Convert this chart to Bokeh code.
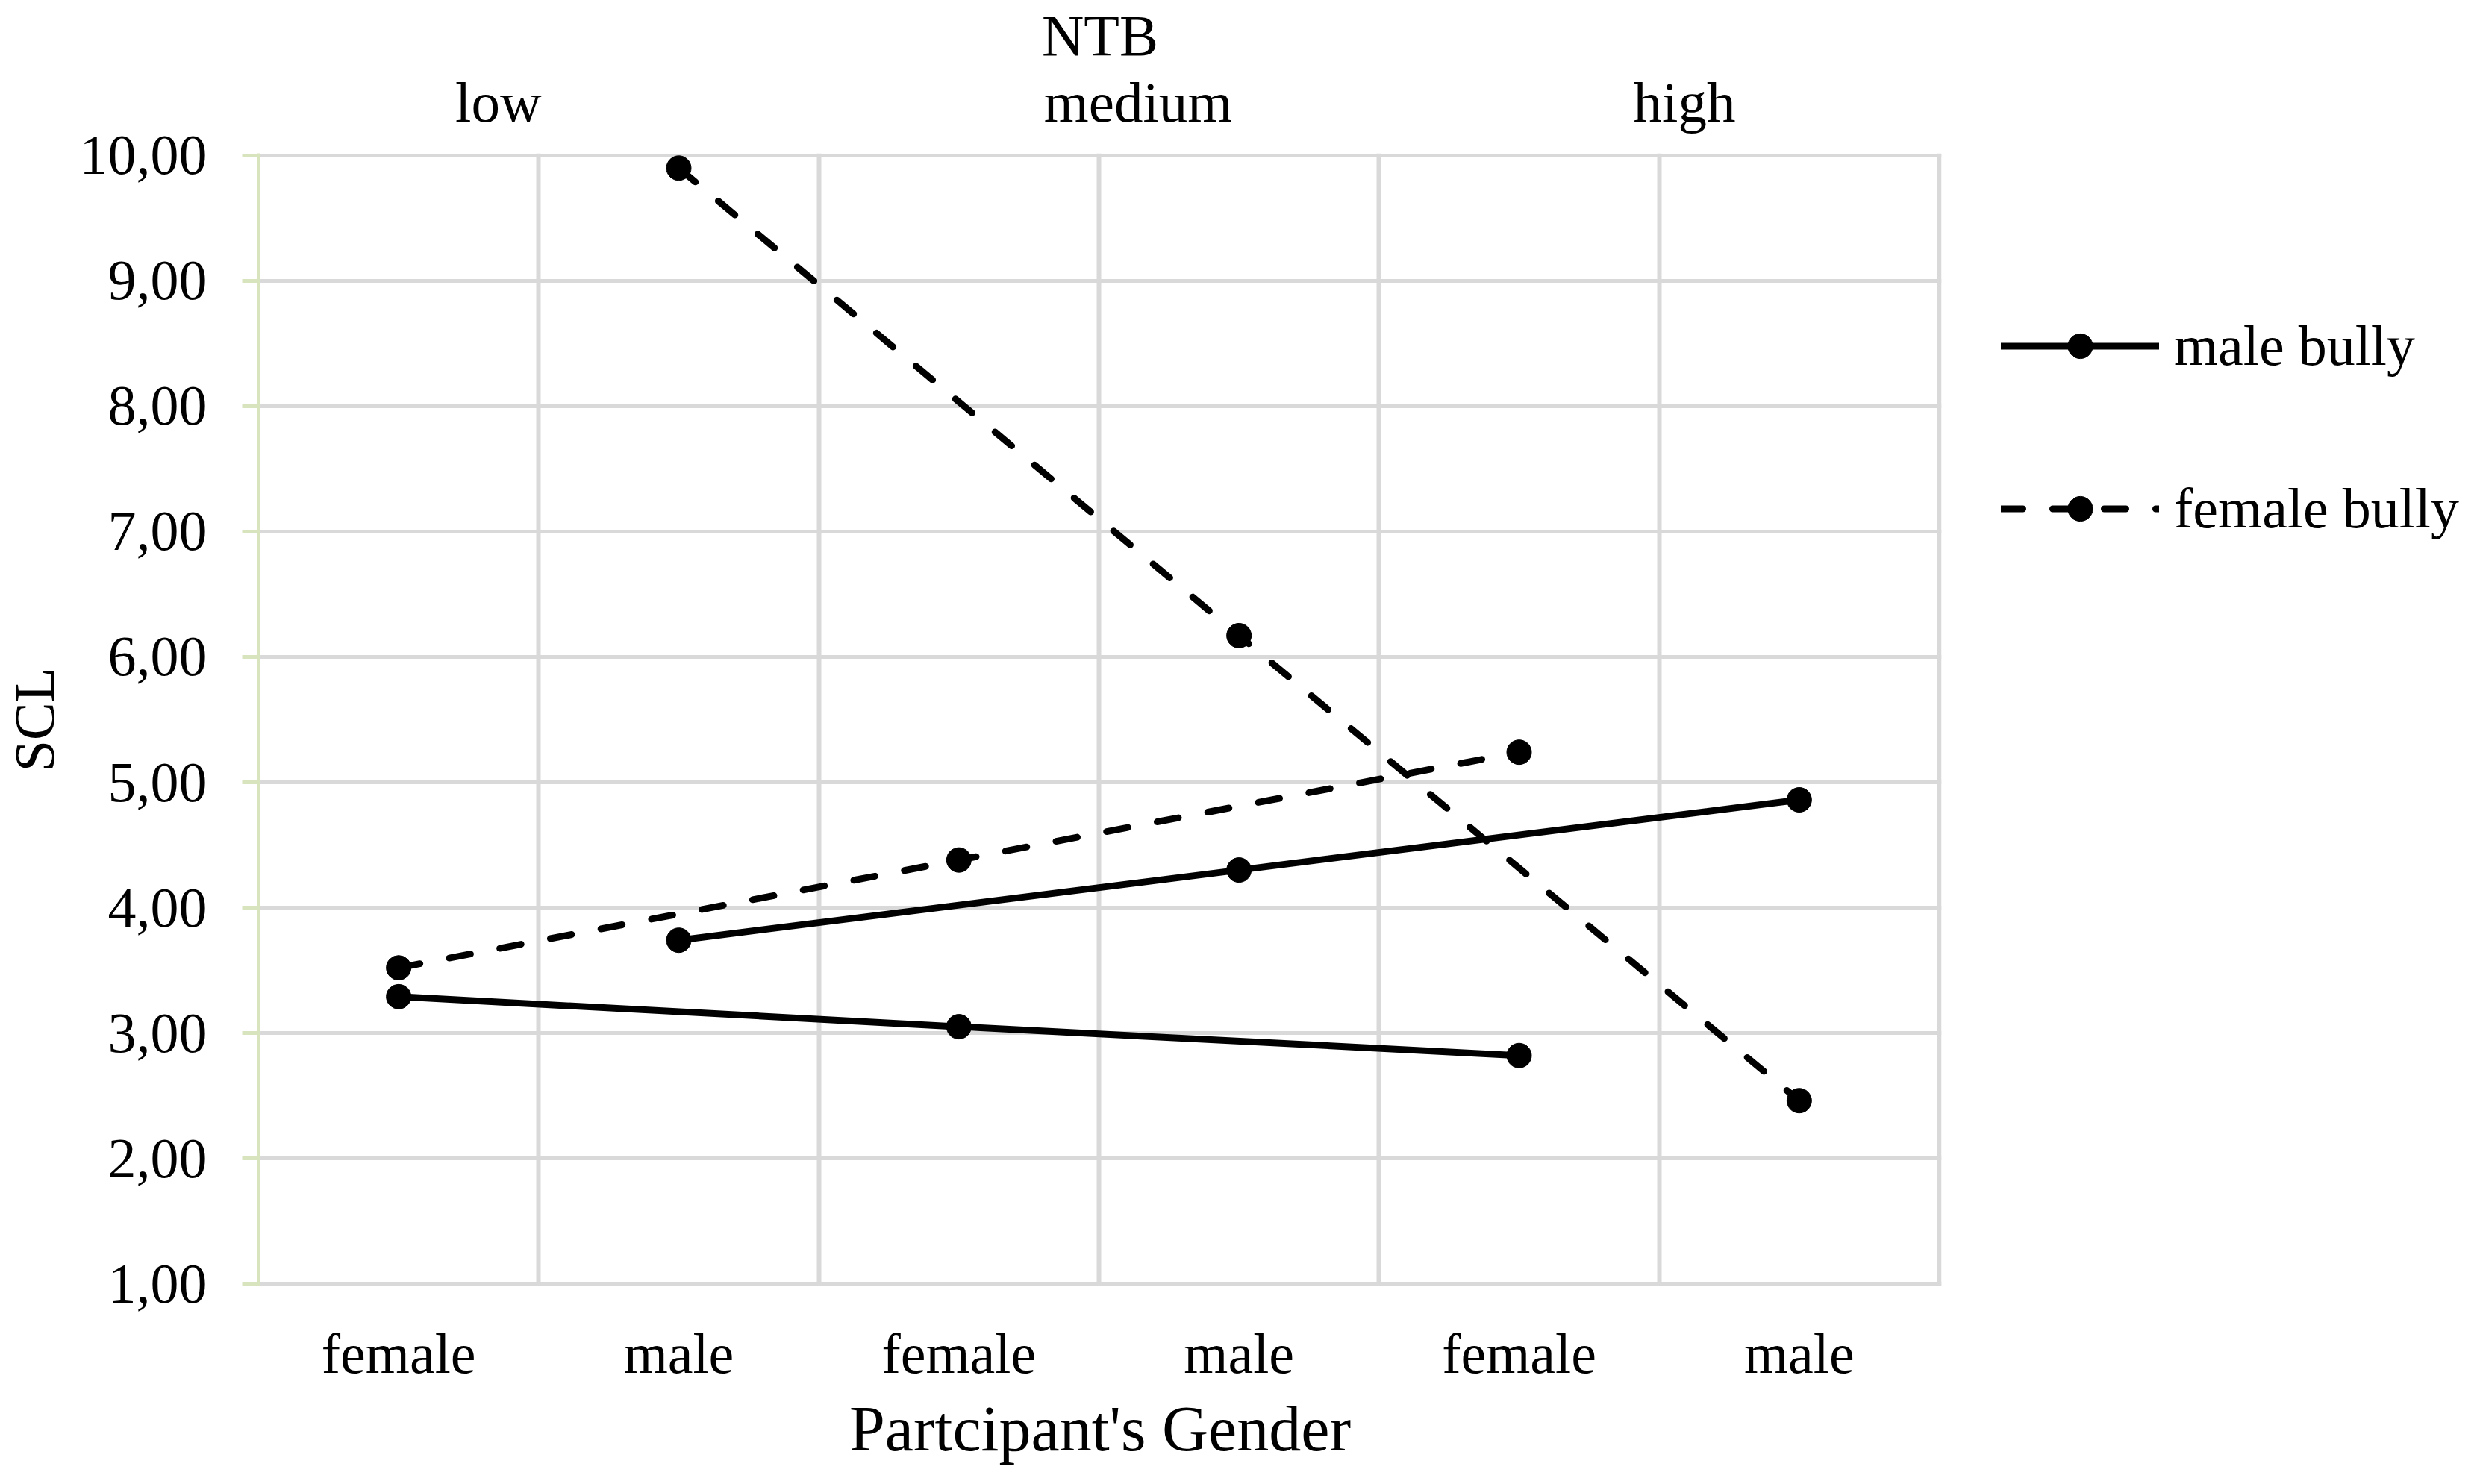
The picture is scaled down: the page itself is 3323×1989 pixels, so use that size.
from bokeh.plotting import figure
from bokeh.layouts import row
from bokeh.models import (Range1d, FixedTicker, CustomJSTickFormatter, Grid, LinearAxis,
                          Legend, LegendItem)
from bokeh.embed import file_html
from bokeh.resources import INLINE

# ---------------- data ----------------
ntb_levels = ["low", "medium", "high"]
participant_genders = ["female", "male"]
x_tick_labels = [g for lvl in ntb_levels for g in participant_genders]

# SCL means per NTB level (low, medium, high), split by participant gender
male_bully_female = [3.29, 3.05, 2.82]
male_bully_male = [3.74, 4.30, 4.86]
female_bully_female = [3.52, 4.38, 5.24]
female_bully_male = [9.90, 6.17, 2.46]

y_ticks = [1, 2, 3, 4, 5, 6, 7, 8, 9, 10]
series_names = ["male bully", "female bully"]

# ---------------- layout ----------------
FONT = "Liberation Serif"
W, H = 3307, 1973
BL, BR, BT, BB = 342, 10, 197, 250
W1 = 2611          # main chart width
W2 = W - W1        # legend strip width
n_cat = len(x_tick_labels)
# small pads so grid lines on the frame edges are drawn
XPAD = 3 / 376.0
YPAD = 3 / 168.9
# header label positions (in category units), as placed in the original
level_label_pos = [0.856, 3.14, 5.09]


def xpos(gender_idx):
    return [len(participant_genders) * i + gender_idx + 0.5 for i in range(len(ntb_levels))]


p = figure(width=W1, height=H, output_backend="svg", toolbar_location=None,
           x_range=Range1d(0, n_cat + XPAD),
           y_range=Range1d(min(y_ticks) - YPAD, max(y_ticks) + YPAD),
           min_border_left=BL, min_border_right=BR, min_border_top=BT, min_border_bottom=BB)
p.outline_line_color = None
p.background_fill_color = "white"
p.border_fill_color = "white"

# grids
p.xgrid.visible = False
p.ygrid.ticker = FixedTicker(ticks=y_ticks)
p.ygrid.grid_line_color = "#d9d9d9"
p.ygrid.grid_line_width = 5
vgrid = Grid(dimension=0, ticker=FixedTicker(ticks=list(range(1, n_cat + 1))),
             grid_line_color="#d9d9d9", grid_line_width=6)
p.add_layout(vgrid)

# y axis
ya = p.yaxis[0]
ya.ticker = FixedTicker(ticks=y_ticks)
ya.formatter = CustomJSTickFormatter(code="return tick.toFixed(2).replace('.', ',');")
ya.axis_line_color = "#d7e4bd"
ya.axis_line_width = 5
ya.major_tick_line_color = "#d7e4bd"
ya.major_tick_line_width = 5
ya.major_tick_out = 22
ya.major_tick_in = 0
ya.minor_tick_line_color = None
ya.minor_tick_out = 0
ya.major_label_standoff = 47
ya.major_label_text_font = FONT
ya.major_label_text_font_size = "76px"
ya.major_label_text_color = "black"
ya.axis_label = "SCL"
ya.axis_label_text_font = FONT
ya.axis_label_text_font_size = "76px"
ya.axis_label_text_font_style = "normal"
ya.axis_label_text_color = "black"
ya.axis_label_standoff = 16

# x axis (bottom)
xa = p.xaxis[0]
xa.ticker = FixedTicker(ticks=[i + 0.5 for i in range(n_cat)])
xa.formatter = CustomJSTickFormatter(args=dict(labels=x_tick_labels),
                                     code="return labels[Math.floor(tick)];")
xa.axis_line_color = None
xa.major_tick_line_color = None
xa.minor_tick_line_color = None
xa.major_tick_out = 0
xa.major_tick_in = 0
xa.minor_tick_out = 0
xa.major_label_standoff = 48
xa.major_label_text_font = FONT
xa.major_label_text_font_size = "76px"
xa.major_label_text_color = "black"
xa.axis_label = "Partcipant's Gender"
xa.axis_label_text_font = FONT
xa.axis_label_text_font_size = "86px"
xa.axis_label_text_font_style = "normal"
xa.axis_label_text_color = "black"
xa.axis_label_standoff = 8

# top axis carrying the NTB levels
ta = LinearAxis(ticker=FixedTicker(ticks=level_label_pos),
                formatter=CustomJSTickFormatter(args=dict(labels=ntb_levels),
                                                code="return labels[index];"),
                axis_line_color=None, major_tick_line_color=None, minor_tick_line_color=None,
                major_tick_out=0, major_tick_in=0, minor_tick_out=0,
                major_label_standoff=26, major_label_text_font=FONT,
                major_label_text_font_size="77px", major_label_text_color="black",
                axis_label="NTB", axis_label_text_font=FONT,
                axis_label_text_font_size="78px", axis_label_text_font_style="normal",
                axis_label_text_color="black", axis_label_standoff=0)
p.add_layout(ta, "above")

# series
LW = 9
MS = 33
DASH = "29 40"
line_solid = dict(line_color="black", line_width=LW, line_cap="round")
line_dashed = dict(line_color="black", line_width=LW, line_dash=DASH, line_cap="round")
p.line(xpos(0), male_bully_female, **line_solid)
p.line(xpos(1), male_bully_male, **line_solid)
p.line(xpos(0), female_bully_female, **line_dashed)
p.line(xpos(1), female_bully_male, **line_dashed)
for ys in (male_bully_female, female_bully_female):
    p.scatter(xpos(0), ys, size=MS, color="black")
for ys in (male_bully_male, female_bully_male):
    p.scatter(xpos(1), ys, size=MS, color="black")

# legend strip to the right (its renderers hold no drawable points: legend keys only)
NAN = [float("nan")]
q = figure(width=W2, height=H, output_backend="svg", toolbar_location=None,
           x_range=Range1d(0, 1), y_range=Range1d(0, 1),
           x_axis_type=None, y_axis_type=None,
           min_border=0, min_border_left=0, min_border_right=0,
           min_border_top=BT, min_border_bottom=BB)
q.outline_line_color = None
q.background_fill_color = "white"
q.border_fill_color = "white"
q.xgrid.visible = False
q.ygrid.visible = False
k_ml = q.line(NAN, NAN, **line_solid)
k_ms = q.scatter(NAN, NAN, size=MS, color="black")
k_fl = q.line(NAN, NAN, **line_dashed)
k_fs = q.scatter(NAN, NAN, size=MS, color="black")
lg = Legend(items=[LegendItem(label=series_names[0], renderers=[k_ml, k_ms]),
                   LegendItem(label=series_names[1], renderers=[k_fl, k_fs])],
            location=(70, 998), orientation="vertical",
            background_fill_alpha=0, border_line_color=None,
            padding=0, margin=0, spacing=131,
            glyph_width=212, glyph_height=83, label_standoff=20,
            label_text_font=FONT, label_text_font_size="76px",
            label_text_color="black")
q.add_layout(lg, "center")

layout = row(p, q)
open("out.html", "w").write(file_html(layout, INLINE))
